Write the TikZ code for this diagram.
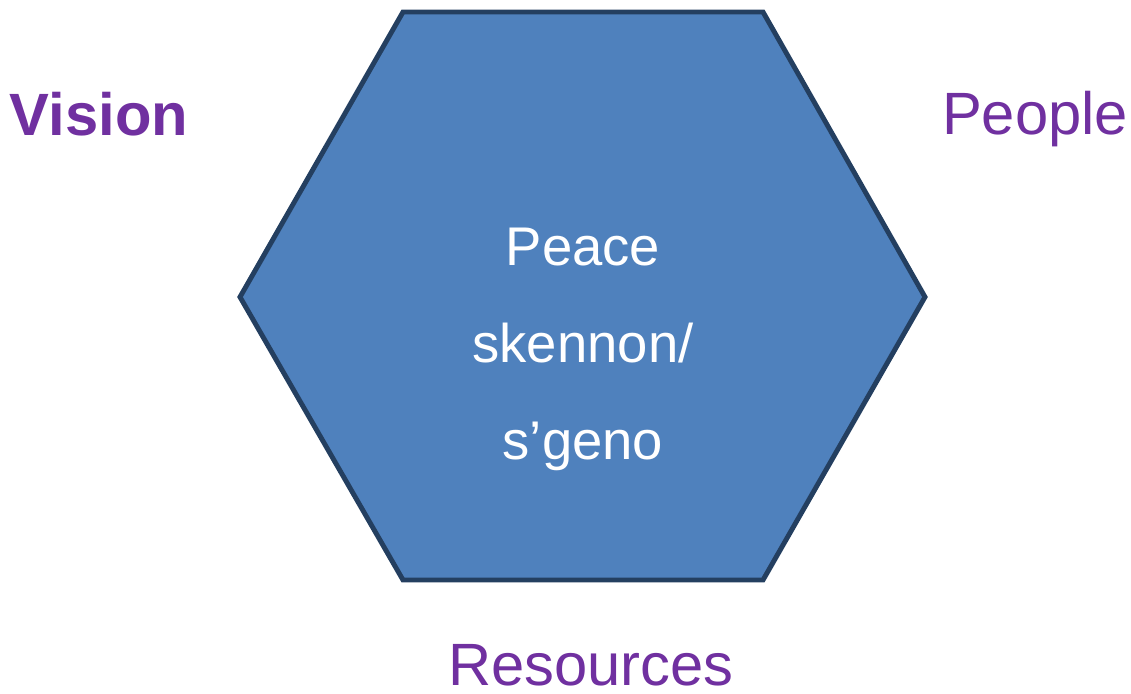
\documentclass[tikz,border=0pt]{standalone}
\usepackage{fontspec}
\setmainfont{Liberation Sans}
\usepackage{tikz}
\usetikzlibrary{positioning, calc}
\definecolor{hexblue}{HTML}{4F81BD}
\definecolor{hexedge}{HTML}{243F60}
\definecolor{wordpurple}{HTML}{7030A0}

\begin{document}
\begin{tikzpicture}[x=0.02cm, y=-0.02cm,
	corner/.style={purple text, anchor=base},
	purple text/.style={text=wordpurple, font=\fontsize{34}{40}\selectfont, inner sep=0pt},
	hexagon/.style={draw=hexedge, fill=hexblue, line width=2.8pt, line join=miter},
	inside/.style={text=white, font=\fontsize{31}{55}\selectfont, align=center, inner sep=0pt}]
	\useasboundingbox (0,0) rectangle (1131,693);

	% corners of the hexagon
	\coordinate (h-tl) at (403,12);
	\coordinate (h-tr) at (763,12);
	\coordinate (h-r) at (925,297);
	\coordinate (h-br) at (763,580);
	\coordinate (h-bl) at (403,580);
	\coordinate (h-l) at (240,297);
	\draw[hexagon] (h-tl)--(h-tr)--(h-r)--(h-br)--(h-bl)--(h-l)--cycle;

	\node[inside, anchor=base] (peace) at (583,459) {Peace\\skennon/\\s’geno};

	\node[corner, font=\bfseries\fontsize{34}{40}\selectfont] (vision) at (99,135) {Vision};
	\node[corner] (people) at (1035,134) {People};
	\node[corner] (resources) at (591,685) {Resources};

\end{tikzpicture}
\end{document}
